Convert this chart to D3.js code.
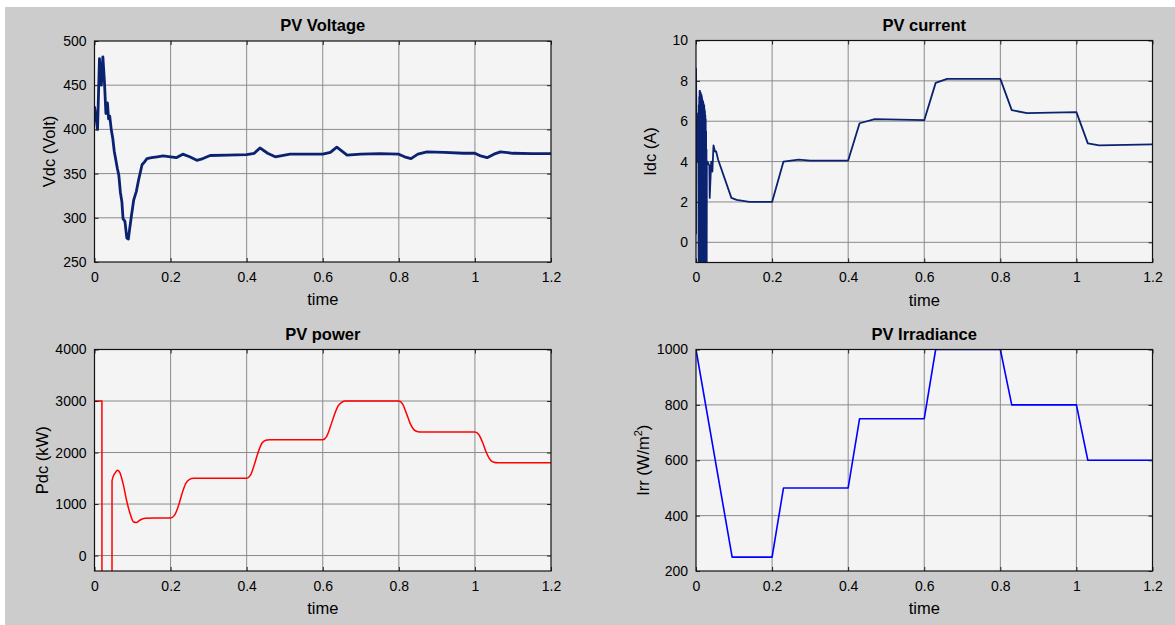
<!DOCTYPE html>
<html>
<head>
<meta charset="utf-8">
<script src="https://cdn.jsdelivr.net/npm/d3@7"></script>
<style>
  body { margin: 0; background: #ffffff; }
  svg text { font-family: Arial, "Liberation Sans", Helvetica, sans-serif; fill: #000; }
  .tick-label { font-size: 14px; }
  .title { font-size: 16.5px; font-weight: bold; }
  .xlabel, .ylabel { font-size: 16.5px; }
</style>
</head>
<body>
<script>
// time axis ticks shared by all four panels
var timeTicks = [0, 0.2, 0.4, 0.6, 0.8, 1, 1.2];

// PV voltage (V)
var voltT = [0, 0.008, 0.013, 0.018, 0.022, 0.026, 0.030, 0.034, 0.037, 0.040, 0.044, 0.048, 0.052, 0.055, 0.060,
             0.064, 0.068, 0.072, 0.075, 0.080, 0.085, 0.089, 0.092, 0.097, 0.103, 0.110, 0.116, 0.125, 0.131, 0.138,
             0.150, 0.165, 0.180, 0.200, 0.215, 0.232, 0.250, 0.269, 0.285, 0.304, 0.35, 0.40, 0.420, 0.435,
             0.455, 0.475, 0.514, 0.56, 0.600, 0.620, 0.637, 0.664, 0.70, 0.75, 0.800, 0.815, 0.832, 0.850,
             0.874, 0.92, 0.97, 1.000, 1.015, 1.032, 1.050, 1.067, 1.10, 1.15, 1.2];
var voltV = [426, 400, 480, 450, 482, 455, 418, 430, 412, 415, 400, 390, 375, 368, 356,
             348, 329, 318, 299, 296, 277, 276, 286, 302, 320, 330, 343, 360, 363, 367,
             368, 369, 370, 369, 368, 372, 369, 365, 367, 370.5, 371, 371.5, 373, 379,
             373, 369, 372, 372, 372, 374, 380, 371, 372, 372.5, 372, 369, 367, 372,
             374.5, 374, 373, 373, 370, 368, 372, 374.5, 373, 372.5, 372.5];

// PV current (A): start-up transient, then steps
var currT = [0, 0, 0.0015, 0.004, 0.006, 0.0070, 0.0075, 0.0080, 0.0085, 0.0090, 0.0095, 0.0100, 0.0105, 0.0110,
             0.0115, 0.0120, 0.0125, 0.0130, 0.0135, 0.0140, 0.0145, 0.0150, 0.0155, 0.0160, 0.0165, 0.0170,
             0.0175, 0.0180, 0.0185, 0.0190, 0.0195, 0.0200, 0.0205, 0.0210, 0.0215, 0.0220, 0.0225, 0.0230,
             0.0235, 0.0240, 0.0245, 0.0250, 0.0255, 0.0260, 0.0265, 0.0270, 0.0275, 0.0280, 0.0285, 0.030,
             0.035, 0.036, 0.040, 0.043, 0.046, 0.050, 0.053, 0.058, 0.093, 0.107, 0.140, 0.200, 0.230, 0.270,
             0.300, 0.400, 0.430, 0.470, 0.600, 0.630, 0.660, 0.800, 0.830, 0.870, 1.000, 1.030, 1.060, 1.2];
var currV = [0.4, 8.6, 5.5, 4.0, 6.4, -2, 6.8, -2, 7.2, -2, 7.5, -2, 7.5, -2,
             7.4, -2, 7.4, -2, 7.3, -2, 7.3, -2, 7.2, -2, 7.1, -2,
             7.0, -2, 7.0, -2, 6.9, -2, 6.8, -2, 6.8, -2, 6.6, -2,
             6.5, -2, 6.3, -2, 6.1, -2, 5.5, -2, 4.6, -2, 4.0, 4.0,
             3.8, 2.2, 4.0, 3.5, 4.8, 4.5, 4.5, 4.1, 2.2, 2.1, 2.0, 2.0, 4.0, 4.1,
             4.05, 4.05, 5.9, 6.1, 6.05, 7.9, 8.1, 8.1, 6.55, 6.4, 6.45, 4.9, 4.8, 4.85];

// PV power (kW)
var powT = [0, 0.0195, 0.0196, 0.046, 0.0461, 0.050, 0.055, 0.060, 0.066, 0.075, 0.085, 0.095, 0.103, 0.110,
            0.120, 0.133, 0.160, 0.200, 0.210, 0.220, 0.230, 0.240, 0.250, 0.260, 0.300, 0.400, 0.410, 0.420,
            0.430, 0.440, 0.450, 0.460, 0.500, 0.600, 0.610, 0.620, 0.630, 0.640, 0.650, 0.660, 0.700, 0.800,
            0.810, 0.820, 0.830, 0.840, 0.850, 0.860, 0.900, 1.000, 1.010, 1.020, 1.030, 1.040, 1.050, 1.060, 1.2];
var powV = [3000, 3000, -600, -600, 1450, 1550, 1610, 1658, 1620, 1400, 1050, 780, 650, 640,
            690, 723, 730, 730, 780, 950, 1200, 1400, 1480, 1500, 1500, 1500, 1560, 1760,
            2000, 2180, 2240, 2250, 2250, 2250, 2310, 2500, 2720, 2900, 2975, 3000, 3000, 3000,
            2940, 2760, 2560, 2440, 2405, 2400, 2400, 2400, 2350, 2200, 2000, 1860, 1810, 1800, 1800];

// PV irradiance (W/m2)
var irrT = [0, 0.095, 0.200, 0.230, 0.400, 0.430, 0.600, 0.630, 0.800, 0.830, 1.000, 1.030, 1.2];
var irrV = [1000, 250, 250, 500, 500, 750, 750, 1000, 1000, 800, 800, 600, 600];

var voltTicks = [250, 300, 350, 400, 450, 500];
var currTicks = [0, 2, 4, 6, 8, 10];
var powTicks = [0, 1000, 2000, 3000, 4000];
var irrTicks = [200, 400, 600, 800, 1000];

var W = 1175, H = 625;
var svg = d3.select("body").append("svg").attr("width", W).attr("height", H);
svg.append("rect").attr("x", 5).attr("y", 7).attr("width", W - 5).attr("height", H - 7).attr("fill", "#cccccc");

function zip(t, v) { return t.map(function(d, i) { return {t: d, v: v[i]}; }); }

var panels = [
  {id: "volt", title: "PV Voltage", ylabel: "Vdc (Volt)", left: 94.5, right: 551, top: 41, bottom: 262,
   ydom: [250, 500], yticks: voltTicks, data: zip(voltT, voltV), color: "#0a2270", width: 2.8, curve: d3.curveLinear},
  {id: "curr", title: "PV current", ylabel: "Idc (A)", left: 696, right: 1152.5, top: 40.5, bottom: 262.5,
   ydom: [-1, 10], yticks: currTicks, data: zip(currT, currV), color: "#0a2270", width: 1.8, curve: d3.curveLinear},
  {id: "pow", title: "PV power", ylabel: "Pdc (kW)", left: 94.5, right: 551, top: 349.5, bottom: 571,
   ydom: [-300, 4000], yticks: powTicks, data: zip(powT, powV), color: "#ff0000", width: 1.5, curve: d3.curveMonotoneX},
  {id: "irr", title: "PV Irradiance", ylabel: "Irr (W/m2)", left: 696, right: 1152.5, top: 349.5, bottom: 571,
   ydom: [200, 1000], yticks: irrTicks, data: zip(irrT, irrV), color: "#0000ff", width: 1.6, curve: d3.curveLinear}
];

panels.forEach(function(p) {
  var x = d3.scaleLinear().domain([0, 1.2]).range([p.left, p.right]);
  var y = d3.scaleLinear().domain(p.ydom).range([p.bottom, p.top]);
  var g = svg.append("g");

  g.append("rect").attr("x", p.left).attr("y", p.top)
    .attr("width", p.right - p.left).attr("height", p.bottom - p.top).attr("fill", "#f4f4f4");

  // grid
  g.selectAll(".vgrid").data(timeTicks.slice(1, -1)).enter().append("line")
    .attr("x1", x).attr("x2", x).attr("y1", p.top).attr("y2", p.bottom)
    .attr("stroke", "#8a8a8a").attr("stroke-width", 1);
  g.selectAll(".hgrid").data(p.yticks.filter(function(d) { return y(d) > p.top + 1 && y(d) < p.bottom - 1; }))
    .enter().append("line")
    .attr("x1", p.left).attr("x2", p.right).attr("y1", y).attr("y2", y)
    .attr("stroke", "#8a8a8a").attr("stroke-width", 1);

  // data line
  var clipId = "clip-" + p.id;
  svg.append("clipPath").attr("id", clipId).append("rect")
    .attr("x", p.left).attr("y", p.top).attr("width", p.right - p.left).attr("height", p.bottom - p.top);
  var line = d3.line().x(function(d) { return x(d.t); }).y(function(d) { return y(d.v); }).curve(p.curve);
  g.append("path").datum(p.data).attr("clip-path", "url(#" + clipId + ")")
    .attr("d", line).attr("fill", "none").attr("stroke", p.color)
    .attr("stroke-width", p.width).attr("stroke-linejoin", "round");

  // axes (ticks inside, matlab style)
  var xb = g.append("g").attr("transform", "translate(0," + p.bottom + ")")
    .call(d3.axisBottom(x).tickValues(timeTicks).tickSizeInner(-4).tickSizeOuter(0).tickPadding(10)
      .tickFormat(function(d) { return d3.format("~g")(d); }));
  var xt = g.append("g").attr("transform", "translate(0," + p.top + ")")
    .call(d3.axisTop(x).tickValues(timeTicks).tickSizeInner(-4).tickSizeOuter(0).tickFormat(""));
  var yl = g.append("g").attr("transform", "translate(" + p.left + ",0)")
    .call(d3.axisLeft(y).tickValues(p.yticks).tickSizeInner(-4).tickSizeOuter(0).tickPadding(8)
      .tickFormat(d3.format("d")));
  var yr = g.append("g").attr("transform", "translate(" + p.right + ",0)")
    .call(d3.axisRight(y).tickValues(p.yticks).tickSizeInner(-4).tickSizeOuter(0).tickFormat(""));
  [xb, xt, yl, yr].forEach(function(a) {
    a.select(".domain").remove();
    a.selectAll(".tick line").attr("stroke", "#222");
    a.selectAll("text").attr("class", "tick-label").attr("font-family", null).attr("font-size", null)
      .attr("fill", "#000");
  });

  g.append("rect").attr("x", p.left).attr("y", p.top)
    .attr("width", p.right - p.left).attr("height", p.bottom - p.top)
    .attr("fill", "none").attr("stroke", "#111").attr("stroke-width", 1.2);

  var cx = (p.left + p.right) / 2;
  g.append("text").attr("class", "title").attr("x", cx).attr("y", p.top - 10)
    .attr("text-anchor", "middle").text(p.title);
  g.append("text").attr("class", "xlabel").attr("x", cx).attr("y", p.bottom + 43)
    .attr("text-anchor", "middle").text("time");

  var ylab = g.append("text").attr("class", "ylabel")
    .attr("transform", "translate(" + (p.left - (p.id == "pow" || p.id == "irr" ? 47 : 40)) + "," + ((p.top + p.bottom) / 2) + ") rotate(-90)")
    .attr("text-anchor", "middle");
  if (p.id == "irr") {
    ylab.append("tspan").text("Irr (W/m");
    ylab.append("tspan").attr("dy", -7).attr("font-size", "11px").text("2");
    ylab.append("tspan").attr("dy", 7).text(")");
  } else {
    ylab.text(p.ylabel);
  }
});
</script>
</body>
</html>
